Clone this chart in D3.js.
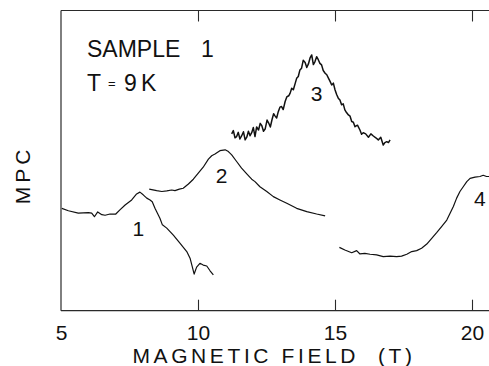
<!DOCTYPE html>
<html>
<head>
<meta charset="utf-8">
<script src="https://cdn.jsdelivr.net/npm/d3@7"></script>
<style>
  body { margin: 0; background: #fff; }
  svg { display: block; font-family: "Liberation Sans", Arial, Helvetica, sans-serif; }
  .lbl { fill: #111; }
</style>
</head>
<body>
<div id="chart"></div>
<script>
const width = 489;
const height = 366;
const margin = { top: 10.5, left: 61, bottom: 55.3 };

// magnetic field (T) vs MPC (arbitrary units), one array per trace
const field1 = [5.03, 5.27, 5.63, 6.0, 6.12, 6.22, 6.34, 6.49, 6.61, 6.79, 7.0, 7.15, 7.34, 7.58, 7.76, 7.88, 8.0, 8.13, 8.25, 8.33, 8.43, 8.61, 8.7, 8.86, 9.1, 9.34, 9.59, 9.71, 9.79, 9.86, 9.95, 10.07, 10.19, 10.32, 10.44, 10.56];
const mpc1 = [34.1, 33.3, 32.5, 32.7, 32.5, 31.3, 32.9, 32.0, 31.8, 32.2, 32.2, 33.6, 35.2, 36.9, 38.9, 39.5, 38.6, 37.5, 36.9, 36.3, 34.1, 30.8, 28.6, 27.5, 25.2, 22.5, 19.7, 17.5, 14.7, 12.2, 14.5, 15.8, 15.2, 14.9, 13.3, 11.9];

const field2 = [8.22, 8.49, 8.68, 8.86, 9.04, 9.16, 9.32, 9.46, 9.65, 9.83, 10.01, 10.19, 10.38, 10.5, 10.62, 10.8, 10.99, 11.11, 11.23, 11.41, 11.59, 11.78, 11.96, 12.08, 12.26, 12.51, 12.75, 12.99, 13.24, 13.6, 13.97, 14.33, 14.64];
const mpc2 = [40.5, 40.0, 39.7, 39.9, 40.2, 40.0, 40.5, 40.8, 42.2, 43.8, 45.8, 47.8, 50.5, 51.6, 52.2, 53.3, 53.6, 53.0, 51.9, 49.7, 47.5, 45.6, 43.8, 43.0, 41.3, 39.7, 38.0, 36.9, 35.8, 34.1, 33.0, 32.2, 31.6];

const field3 = [11.23, 11.29, 11.35, 11.41, 11.47, 11.53, 11.59, 11.66, 11.72, 11.78, 11.84, 11.9, 11.96, 12.02, 12.08, 12.14, 12.21, 12.27, 12.33, 12.39, 12.45, 12.52, 12.58, 12.64, 12.7, 12.76, 12.81, 12.87, 12.93, 12.99, 13.05, 13.11, 13.18, 13.24, 13.31, 13.36, 13.42, 13.48, 13.55, 13.6, 13.66, 13.72, 13.78, 13.84, 13.91, 13.97, 14.03, 14.09, 14.15, 14.21, 14.27, 14.33, 14.39, 14.45, 14.51, 14.57, 14.64, 14.7, 14.76, 14.82, 14.88, 14.94, 15.0, 15.06, 15.12, 15.18, 15.24, 15.3, 15.36, 15.42, 15.49, 15.55, 15.61, 15.67, 15.73, 15.82, 15.91, 15.97, 16.03, 16.12, 16.22, 16.31, 16.4, 16.49, 16.58, 16.67, 16.76, 16.82, 16.89, 16.95, 17.01];
const mpc3 = [58.9, 60.0, 57.6, 58.0, 59.4, 57.2, 58.2, 59.6, 56.9, 57.8, 59.8, 58.3, 59.3, 61.0, 58.0, 61.2, 60.2, 62.4, 61.6, 59.8, 60.5, 63.5, 62.5, 61.2, 63.6, 65.6, 64.9, 64.2, 66.3, 67.8, 68.0, 67.0, 69.7, 71.2, 71.6, 72.4, 74.1, 73.6, 75.8, 77.4, 78.0, 80.2, 80.8, 83.4, 82.7, 81.0, 82.2, 84.2, 85.2, 82.0, 83.0, 84.6, 83.6, 82.4, 81.9, 80.0, 79.1, 78.6, 77.5, 76.4, 75.2, 75.8, 73.6, 72.0, 70.8, 70.2, 68.6, 68.9, 66.9, 66.0, 65.2, 64.8, 63.0, 62.8, 61.3, 61.8, 60.2, 58.8, 59.3, 58.9, 57.8, 58.9, 58.2, 57.6, 56.9, 57.8, 55.2, 56.0, 56.3, 56.0, 56.9];

const field4 = [15.16, 15.36, 15.61, 15.79, 15.91, 16.09, 16.28, 16.52, 16.76, 17.01, 17.25, 17.43, 17.62, 17.8, 17.98, 18.16, 18.35, 18.53, 18.71, 18.89, 19.08, 19.2, 19.32, 19.44, 19.56, 19.68, 19.81, 19.93, 20.11, 20.29, 20.41, 20.53, 20.65];
const mpc4 = [21.1, 20.2, 19.3, 20.0, 18.9, 19.1, 18.8, 18.6, 18.0, 18.2, 18.0, 18.2, 18.8, 19.7, 20.0, 20.8, 22.2, 24.1, 26.0, 28.0, 30.2, 32.5, 34.7, 37.5, 39.7, 41.3, 43.0, 44.1, 44.5, 44.7, 45.1, 44.7, 44.7];

const traces = [
  { id: "1", field: field1, mpc: mpc1, label: [7.82, 27.5] },
  { id: "2", field: field2, mpc: mpc2, label: [10.86, 45.2] },
  { id: "3", field: field3, mpc: mpc3, label: [14.33, 72.5] },
  { id: "4", field: field4, mpc: mpc4, label: [20.29, 37.5] },
];

const xTicks = [5, 10, 15, 20];

const svg = d3.select("#chart")
  .append("svg")
  .attr("width", width)
  .attr("height", height);

const x = d3.scaleLinear().domain([5, 21]).range([margin.left, margin.left + 16 * 27.4]);
const y = d3.scaleLinear().domain([0, 100]).range([height - margin.bottom, margin.top]);

const y0 = y(0), yTop = y(100);

// frame: left, bottom, top (right side runs off the page)
const frame = svg.append("g").attr("stroke", "#2a2a2a").attr("stroke-width", 1.2).attr("fill", "none");
frame.append("line").attr("x1", x(5)).attr("x2", width).attr("y1", y0).attr("y2", y0);
frame.append("line").attr("x1", x(5)).attr("x2", width).attr("y1", yTop).attr("y2", yTop);
frame.append("line").attr("x1", x(5)).attr("x2", x(5)).attr("y1", yTop).attr("y2", y0);

const xAxis = d3.axisBottom(x).tickValues(xTicks).tickSize(-11).tickPadding(14).tickFormat(d3.format("d"));
const gx = svg.append("g").attr("transform", `translate(0,${y0})`).call(xAxis);
gx.select(".domain").remove();
gx.selectAll(".tick line").attr("stroke", "#2a2a2a").attr("stroke-width", 1.1)
  .filter(d => d === 5).remove();
gx.selectAll(".tick text").attr("font-size", 21).attr("fill", "#111")
  .attr("font-family", "\"Liberation Sans\", Arial, sans-serif");

const xTop = d3.axisTop(x).tickValues([10, 15, 20]).tickSize(-11).tickFormat("");
const gt = svg.append("g").attr("transform", `translate(0,${yTop})`).call(xTop);
gt.select(".domain").remove();
gt.selectAll(".tick line").attr("stroke", "#2a2a2a").attr("stroke-width", 1.1);

const line = d3.line().x(d => x(d[0])).y(d => y(d[1]));

traces.forEach(t => {
  const pts = t.field.map((f, i) => [f, t.mpc[i]]);
  svg.append("path")
    .datum(pts)
    .attr("d", line)
    .attr("fill", "none")
    .attr("stroke", "#111")
    .attr("stroke-width", t.id === "3" ? 1.5 : 1.2)
    .attr("stroke-linejoin", "round");
  svg.append("text")
    .attr("class", "lbl")
    .attr("x", x(t.label[0]))
    .attr("y", y(t.label[1]))
    .attr("text-anchor", "middle")
    .attr("dy", "0.36em")
    .attr("font-size", 21)
    .text(t.id);
});

// annotations
svg.append("text").attr("class", "lbl").attr("x", 87).attr("y", 57)
  .attr("font-size", 23).text("SAMPLE");
svg.append("text").attr("class", "lbl").attr("x", 201).attr("y", 57)
  .attr("font-size", 23).text("1");
const tLine = svg.append("text").attr("class", "lbl").attr("y", 90.5).attr("font-size", 23);
tLine.append("tspan").attr("x", 87).text("T");
tLine.append("tspan").attr("x", 108).attr("font-size", 13).attr("dy", -3).text("=");
tLine.append("tspan").attr("x", 124).attr("dy", 3).text("9");
tLine.append("tspan").attr("x", 141).text("K");

svg.append("text").attr("class", "lbl")
  .attr("x", 274).attr("y", 363)
  .attr("text-anchor", "middle")
  .attr("font-size", 21)
  .attr("letter-spacing", 3.6)
  .style("white-space", "pre")
  .text("MAGNETIC FIELD  (T)");

svg.append("text").attr("class", "lbl")
  .attr("transform", "translate(30,175) rotate(-90)")
  .attr("text-anchor", "middle")
  .attr("font-size", 21)
  .attr("letter-spacing", 4)
  .text("MPC");
</script>
</body>
</html>
